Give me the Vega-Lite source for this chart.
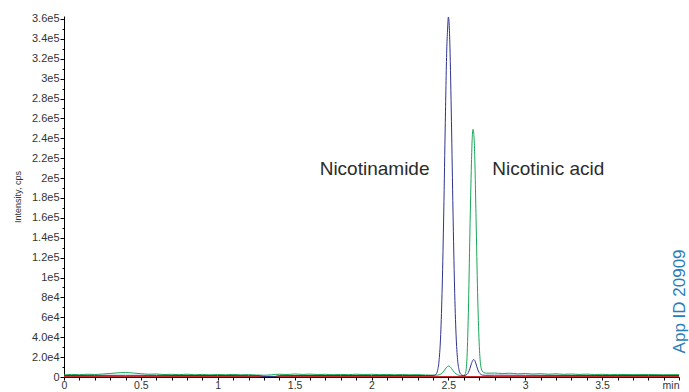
{
  "$schema": "https://vega.github.io/schema/vega-lite/v6.json",
  "width": 615,
  "height": 361,
  "autosize": {"type": "none"},
  "padding": {"left": 64, "top": 16, "right": 10, "bottom": 15},
  "background": "white",
  "config": {"view": {"stroke": null}, "font": "Liberation Sans"},
  "datasets": {
    "red": [
      {"t": 0, "i": 300}, {"t": 0.5, "i": 300}, {"t": 1, "i": 300}, {"t": 1.5, "i": 300},
      {"t": 2, "i": 300}, {"t": 2.5, "i": 300}, {"t": 3, "i": 300}, {"t": 3.5, "i": 300}, {"t": 4, "i": 300}
    ],
    "green": [
      {"t": 0, "i": 2000}, {"t": 0.05, "i": 2600}, {"t": 0.1, "i": 2300}, {"t": 0.15, "i": 2800},
      {"t": 0.2, "i": 2500}, {"t": 0.25, "i": 3000}, {"t": 0.3, "i": 3500}, {"t": 0.35, "i": 4200},
      {"t": 0.4, "i": 4500}, {"t": 0.45, "i": 4000}, {"t": 0.5, "i": 3300}, {"t": 0.55, "i": 2800},
      {"t": 0.6, "i": 3000}, {"t": 0.65, "i": 2500}, {"t": 0.7, "i": 2700}, {"t": 0.75, "i": 2400},
      {"t": 0.8, "i": 2800}, {"t": 0.85, "i": 2300}, {"t": 0.9, "i": 2600}, {"t": 0.95, "i": 2200},
      {"t": 1.0, "i": 2500}, {"t": 1.05, "i": 2300}, {"t": 1.1, "i": 2600}, {"t": 1.15, "i": 2200},
      {"t": 1.2, "i": 2400}, {"t": 1.25, "i": 2000}, {"t": 1.3, "i": 1800}, {"t": 1.35, "i": 2200},
      {"t": 1.4, "i": 2800}, {"t": 1.45, "i": 2500}, {"t": 1.5, "i": 3000}, {"t": 1.55, "i": 2600},
      {"t": 1.6, "i": 2900}, {"t": 1.65, "i": 2500}, {"t": 1.7, "i": 2700}, {"t": 1.75, "i": 2300},
      {"t": 1.8, "i": 2600}, {"t": 1.85, "i": 2400}, {"t": 1.9, "i": 2800}, {"t": 1.95, "i": 2500},
      {"t": 2.0, "i": 2700}, {"t": 2.05, "i": 2400}, {"t": 2.1, "i": 2600}, {"t": 2.15, "i": 2300},
      {"t": 2.2, "i": 2500}, {"t": 2.25, "i": 2200}, {"t": 2.3, "i": 2400}, {"t": 2.35, "i": 2000},
      {"t": 2.4, "i": 1800}, {"t": 2.42, "i": 1800}, {"t": 2.44, "i": 2200}, {"t": 2.46, "i": 4000},
      {"t": 2.48, "i": 8000}, {"t": 2.49, "i": 10000}, {"t": 2.5, "i": 11000}, {"t": 2.51, "i": 10500},
      {"t": 2.52, "i": 8500}, {"t": 2.54, "i": 4500}, {"t": 2.56, "i": 2200}, {"t": 2.58, "i": 1500},
      {"t": 2.6, "i": 1500}, {"t": 2.61, "i": 3000}, {"t": 2.62, "i": 16000}, {"t": 2.63, "i": 65000},
      {"t": 2.64, "i": 145000}, {"t": 2.65, "i": 215000}, {"t": 2.655, "i": 240000}, {"t": 2.66, "i": 249000},
      {"t": 2.665, "i": 245000}, {"t": 2.67, "i": 230000}, {"t": 2.68, "i": 160000}, {"t": 2.69, "i": 85000},
      {"t": 2.7, "i": 35000}, {"t": 2.71, "i": 12000}, {"t": 2.72, "i": 6000}, {"t": 2.73, "i": 4500},
      {"t": 2.75, "i": 3800}, {"t": 2.8, "i": 4000}, {"t": 2.85, "i": 3500}, {"t": 2.9, "i": 3800},
      {"t": 2.95, "i": 3200}, {"t": 3.0, "i": 3500}, {"t": 3.05, "i": 3000}, {"t": 3.1, "i": 3300},
      {"t": 3.15, "i": 2800}, {"t": 3.2, "i": 3200}, {"t": 3.25, "i": 2700}, {"t": 3.3, "i": 3000},
      {"t": 3.35, "i": 2600}, {"t": 3.4, "i": 2900}, {"t": 3.45, "i": 2500}, {"t": 3.5, "i": 2700},
      {"t": 3.55, "i": 2300}, {"t": 3.6, "i": 2600}, {"t": 3.7, "i": 2400}, {"t": 3.8, "i": 2500},
      {"t": 3.9, "i": 2300}, {"t": 4.0, "i": 2400}
    ],
    "blue": [
      {"t": 0, "i": 1500}, {"t": 0.2, "i": 1600}, {"t": 0.4, "i": 1700}, {"t": 0.6, "i": 1600},
      {"t": 0.8, "i": 1500}, {"t": 1.0, "i": 1500}, {"t": 1.2, "i": 1400}, {"t": 1.27, "i": 1400},
      {"t": 1.3, "i": 600}, {"t": 1.37, "i": 600}, {"t": 1.4, "i": 1400}, {"t": 1.6, "i": 1500},
      {"t": 1.8, "i": 1500}, {"t": 2.0, "i": 1500}, {"t": 2.2, "i": 1500}, {"t": 2.35, "i": 1500},
      {"t": 2.4, "i": 1600}, {"t": 2.41, "i": 1800}, {"t": 2.42, "i": 2900}, {"t": 2.43, "i": 6700},
      {"t": 2.44, "i": 17400}, {"t": 2.45, "i": 42500}, {"t": 2.46, "i": 91500}, {"t": 2.47, "i": 166000},
      {"t": 2.48, "i": 256000}, {"t": 2.49, "i": 332000}, {"t": 2.495, "i": 350000}, {"t": 2.5, "i": 362000},
      {"t": 2.505, "i": 355000}, {"t": 2.51, "i": 333000}, {"t": 2.52, "i": 257000}, {"t": 2.53, "i": 167000},
      {"t": 2.54, "i": 91500}, {"t": 2.55, "i": 42500}, {"t": 2.56, "i": 17400}, {"t": 2.57, "i": 6700},
      {"t": 2.58, "i": 2900}, {"t": 2.59, "i": 1800}, {"t": 2.6, "i": 1500}, {"t": 2.61, "i": 1600},
      {"t": 2.62, "i": 2500}, {"t": 2.63, "i": 4500}, {"t": 2.64, "i": 8500}, {"t": 2.65, "i": 13500},
      {"t": 2.66, "i": 17000}, {"t": 2.665, "i": 17500}, {"t": 2.67, "i": 17000}, {"t": 2.68, "i": 13000},
      {"t": 2.69, "i": 8000}, {"t": 2.7, "i": 4500}, {"t": 2.71, "i": 2800}, {"t": 2.72, "i": 2000},
      {"t": 2.74, "i": 1700}, {"t": 2.8, "i": 1800}, {"t": 3.0, "i": 1700}, {"t": 3.2, "i": 1600},
      {"t": 3.5, "i": 1500}, {"t": 3.8, "i": 1500}, {"t": 4.0, "i": 1500}
    ],
    "labels": [
      {"t": 2.02, "i": 209000, "label": "Nicotinamide"},
      {"t": 3.15, "i": 209000, "label": "Nicotinic acid"}
    ],
    "appid": [
      {"t": 4.005, "i": 76000, "label": "App ID 20909"}
    ]
  },
  "encoding": {
    "x": {
      "field": "t", "type": "quantitative",
      "scale": {"domain": [0, 4], "nice": false, "zero": false},
      "axis": {
        "title": null,
        "values": [0,0.1,0.2,0.3,0.4,0.5,0.6,0.7,0.8,0.9,1,1.1,1.2,1.3,1.4,1.5,1.6,1.7,1.8,1.9,2,2.1,2.2,2.3,2.4,2.5,2.6,2.7,2.8,2.9,3,3.1,3.2,3.3,3.4,3.5,3.6,3.7,3.8,3.9,4],
        "labelExpr": "datum.value == 4 ? 'min' : (round(datum.value*10) % 5 == 0 ? format(datum.value, '~g') : '')",
        "labelAlign": {"condition": {"test": "datum.value == 4", "value": "right"}, "value": "center"},
        "labelFlush": false,
        "labelOverlap": false,
        "labelFontSize": 10.5,
        "labelColor": "#333333",
        "labelPadding": 0,
        "tickSize": 3,
        "tickColor": "#000000",
        "domainColor": "#000000",
        "grid": false
      }
    },
    "y": {
      "field": "i", "type": "quantitative",
      "scale": {"domain": [0, 363000], "nice": false},
      "axis": {
        "title": "Intensity, cps",
        "titleFontSize": 9,
        "titleFontWeight": "normal",
        "titleColor": "#333333",
        "titlePadding": 9,
        "values": [0,10000,20000,30000,40000,50000,60000,70000,80000,90000,100000,110000,120000,130000,140000,150000,160000,170000,180000,190000,200000,210000,220000,230000,240000,250000,260000,270000,280000,290000,300000,310000,320000,330000,340000,350000,360000],
        "labelExpr": "datum.value % 20000 != 0 ? '' : (datum.value == 0 ? '0' : (datum.value == 20000 ? '2.0e4' : (datum.value == 40000 ? '4.0e4' : (datum.value < 100000 ? (datum.value/10000) + 'e4' : (datum.value/100000) + 'e5'))))",
        "labelOverlap": false,
        "labelFontSize": 11,
        "labelColor": "#333333",
        "labelPadding": 1,
        "tickSize": {"condition": {"test": "datum.value % 20000 == 0", "value": 4}, "value": 2},
        "tickColor": "#000000",
        "domainColor": "#000000",
        "grid": false
      }
    }
  },
  "layer": [
    {"data": {"name": "red"}, "mark": {"type": "line", "color": "#d6262d", "strokeWidth": 1.5, "interpolate": "monotone", "clip": true}},
    {"data": {"name": "green"}, "mark": {"type": "line", "color": "#16a658", "strokeWidth": 1, "interpolate": "monotone", "clip": true}},
    {"data": {"name": "blue"}, "mark": {"type": "line", "color": "#2e3490", "strokeWidth": 1, "interpolate": "monotone", "clip": true}},
    {"data": {"name": "labels"}, "mark": {"type": "text", "fontSize": 19, "color": "#2b2b2b", "align": "center", "baseline": "middle"}, "encoding": {"text": {"field": "label"}}},
    {"data": {"name": "appid"}, "mark": {"type": "text", "fontSize": 17, "color": "#2a7db8", "angle": 270, "align": "center", "baseline": "middle"}, "encoding": {"text": {"field": "label"}}}
  ]
}
